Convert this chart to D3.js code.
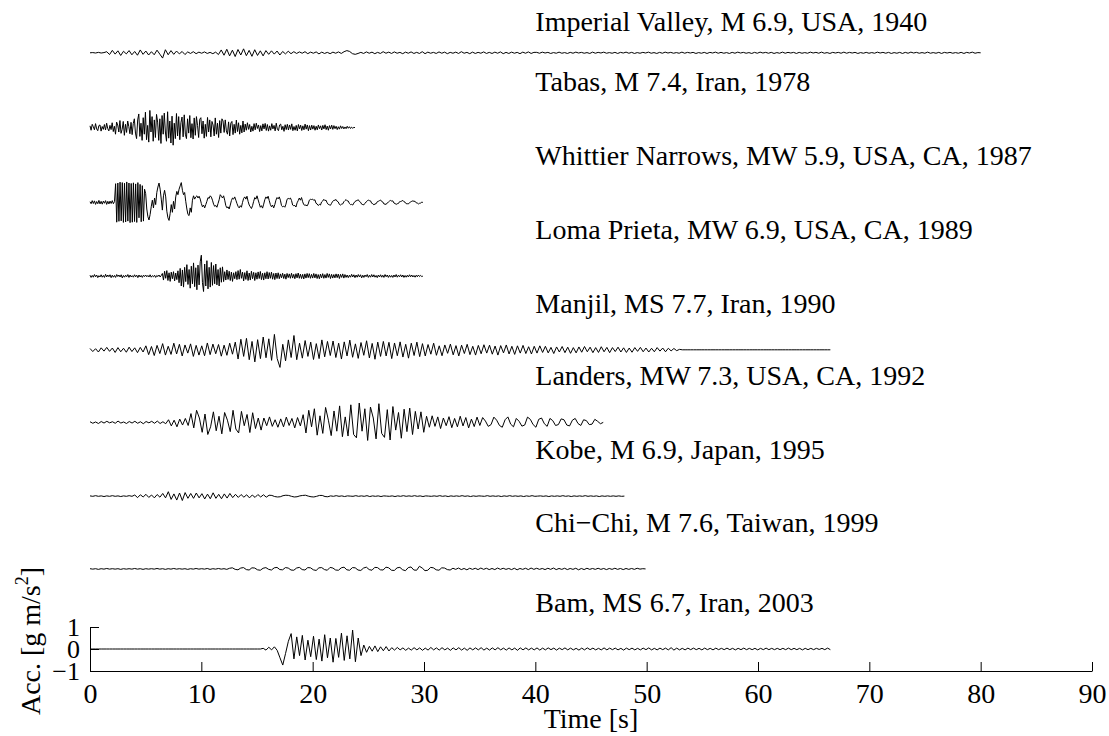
<!DOCTYPE html>
<html>
<head>
<meta charset="utf-8">
<script src="https://cdn.jsdelivr.net/npm/d3@7"></script>
<style>
  html, body { margin: 0; padding: 0; background: #fff; }
  svg { display: block; }
  text { font-family: "Liberation Serif", "Times New Roman", serif; fill: #000; }
</style>
</head>
<body>
<svg id="chart" width="1109" height="736"></svg>
<script>
// Earthquake records, top to bottom
const events = [
  "Imperial Valley, M 6.9, USA, 1940",
  "Tabas, M 7.4, Iran, 1978",
  "Whittier Narrows, MW 5.9, USA, CA, 1987",
  "Loma Prieta, MW 6.9, USA, CA, 1989",
  "Manjil, MS 7.7, Iran, 1990",
  "Landers, MW 7.3, USA, CA, 1992",
  "Kobe, M 6.9, Japan, 1995",
  "Chi\u2212Chi, M 7.6, Taiwan, 1999",
  "Bam, MS 6.7, Iran, 2003"
];
// record length of each trace [s]
const durations = [80, 23.8, 29.9, 29.9, 66.5, 46.1, 48, 49.9, 66.5];
// vertical shift of each trace [g m/s^2]
const offsets = [27.1, 23.7, 20.3, 16.95, 13.6, 10.3, 6.95, 3.64, 0];

const xTicks = [0, 10, 20, 30, 40, 50, 60, 70, 80, 90];
const yTicks = [-1, 0, 1];

// Sampled accelerations, evenly spaced over each record, in 0.01 g m/s^2
const imperialValley = [
  0,1,-1,2,-1,1,
  5,-8,11,-6,9,-12,7,-5,10,-9,6,-11,13,-7,8,-10,5,-9,12,
  -6,-24,14,-9,
  10,-7,8,-5,6,-8,4,-3,5,-4,3,-2,4,-3,2,-4,3,
  -8,13,-11,16,-14,12,-17,15,-10,18,-13,11,-16,14,-12,9,-14,10,
  -7,9,-6,8,-10,6,-5,7,-4,5,
  -3,4,-2,5,-4,3,-2,4,-5,3,-3,2,-4,3,-2,4,-3,
  5,10,6,-4,-7,-3,
  2,-3,4,-2,3,-4,2,-3,5,-2,3,-3,4,-2,2,-4,3,-2,4,-3,
  2,-3,5,-4,3,-2,2,-3,4,-2,3,-4,2,-2,3,-3,5,-2,2,-4,
  3,-3,2,-2,4,-3,2,-3,3,-2,4,-4,2,-3,3,-2,2,-4,3,-2,
  4,-3,2,
  2,-2,3,-1,2,-3,1,-2,3,-2,1,-3,2,-2,3,-1,2,-2,1,-3,
  3,-2,2,-1,3,-2,1,-2,2,-3,2,-1,3,-2,2,-3,1,-2,2,-1,
  3,-2,1,-3,2,-2,3,-1,2,-2,1,-2,3,-2,2,-1,2,-3,1,-2,
  2,-3,2,-1,3,-2,2,-2,1,-3,2,-2,3,-1,2,-2,1,-3,2,-2,
  3,-1,2,-2,2,-3,1,-2,3,-2,2,-1,2,-3,2,-2,1,-2,3,-1,
  2,-2,3,-2,1,-3,2,-1,2,-2,3,-2,2,-1,2,-3,1,-2,2,-2,
  1,-2,3,-1,2,-2,2,-3,1,-2,2,-3,2,-2,3,-1,2,-2,1,-2,
  3,-2,1,-2,2,-3,2,-1,2,-2,1,-2,2,-3,2,-1,3,-2,1,0
];
const tabas = [
  8,-12,15,4,-10,18,-6,-14,9,12,-16,5,-8,14,-11,20,-5,-15,10,-9,
  22,-18,6,-30,25,12,-20,32,-26,-8,28,-35,15,-22,30,5,-28,24,-32,18,
  40,-25,-50,35,62,-40,20,-58,45,-30,70,-55,10,-66,78,-20,50,-62,35,-45,
  60,25,-58,40,-72,55,-30,66,-20,-62,72,-48,30,-70,52,-80,20,-50,64,-38,
  50,-55,22,48,-42,58,-30,-50,40,-25,55,-46,18,-52,44,-35,50,10,-45,38,
  45,-28,30,-48,15,-40,46,-20,35,-42,28,12,-38,44,-30,20,-45,32,-25,40,
  30,-22,35,-15,-30,26,-38,20,28,-32,15,-25,34,-18,22,-30,10,-24,30,-20,
  16,-12,22,-8,14,-20,6,-16,18,-10,20,-4,12,-18,9,-15,17,-6,19,-13,
  14,-16,8,-12,18,-6,10,-15,20,-8,-14,12,16,-10,6,-17,13,-9,15,-11,
  12,-8,17,-14,5,-12,10,-15,14,-6,11,-13,8,-10,16,-7,12,-14,9,-11,
  11,-7,9,-12,6,-10,12,-5,8,-11,10,-6,13,-9,7,-12,9,-6,11,-8,
  9,-5,6,-9,4,-7,8,-4,5,-6,3,-5,6,-3,4,-4,2,-3,1,0
];
const whittierNarrows = [
  3,-6,8,-5,7,-9,4,-6,9,-7,5,-8,6,-4,8,-9,5,-7,6,-5,8,-6,4,
  85,-90,88,-86,92,-84,90,-91,87,-89,93,-85,88,-92,86,-90,89,-87,84,-91,90,-70,82,-88,76,-85,60,
  40,-30,-65,-80,-55,-20,10,-25,20,-10,45,70,88,60,15,-35,30,55,25,-40,
  -70,-82,-50,-10,-45,5,-30,25,50,35,60,75,90,55,35,45,5,-30,-55,-60,
  -25,-45,10,30,15,
  25,30,20,28,15,-5,-20,-12,-25,-10,5,22,18,30,24,10,-8,-18,-14,-22,-5,12,35,28,20,
  30,10,-15,-25,-20,-30,-12,8,20,15,25,10,-5,-18,-25,-15,-22,0,18,25,15,28,5,-12,-20,
  -28,-15,5,22,15,30,12,-5,-22,-15,-26,-8,12,25,18,28,8,-10,-20,-12,-25,-10,10,22,16,
  25,10,-14,-20,-17,-22,-8,14,18,16,20,9,-12,-15,-14,-21,-2,8,20,10,22,3,-10,-13,-12,-16,-7,10,14,13,
  15,9,12,-4,-7,-14,-9,-12,2,6,
  14,8,10,-2,-9,-11,-13,-4,5,9,
  10,13,5,2,-9,-12,-8,-7,3,8,
  13,7,6,-5,-10,-9,-12,-3,4,7,
  9,12,4,1,-8,-10,-11,-4,2,6,
  11,8,7,-4,-6,-11,-7,-6,3,5,
  8,11,4,2,-7,-8,-9,-2,1,6,
  9,6,7,-3,-5,-9,-6,-5,3,4,
  6,9,3,1,-6,-6,-7,-1,2,5,
  7,5,5,-2,-3,-7,-4,-3,1,0
];
const lomaPrieta = [
  4,-6,3,-5,7,-3,5,-7,2,-4,6,-5,3,-6,8,-4,5,-3,6,-7,
  4,-5,3,-6,7,-2,5,-4,6,-8,3,-5,4,-3,7,-6,5,-4,2,-5,
  6,-3,4,-7,5,-4,3,-6,4,-2,5,-3,3,-4,6,-5,2,-3,4,-6,
  3,-2,5,-4,3,
  12,-18,22,-10,25,-20,15,-24,18,-12,20,-22,14,-16,24,
  -30,35,-45,28,-50,40,-25,52,-38,30,
  -55,45,-35,60,-48,38,-62,50,-40,65,
  95,-30,-70,55,-45,70,-58,40,-50,62,
  -42,48,-35,55,-40,30,-45,38,-28,42,
  -25,20,-18,28,-15,22,-20,18,-24,15,-12,20,-16,25,-14,30,-10,18,-22,16,
  -15,24,-20,14,-18,22,-12,17,-20,15,-14,19,-11,21,-16,13,-18,15,-12,20,
  -13,16,-10,18,-14,12,-16,14,-11,15,
  -12,10,-8,13,-11,9,-14,12,-7,10,-10,13,-9,8,-12,11,-8,14,-10,9,
  -11,8,-13,10,-9,12,-7,11,-10,8,-9,12,-8,10,-11,7,-12,9,-8,11,
  -10,7,-9,12,-6,10,-11,8,-9,7,-8,10,-7,9,-11,8,-6,10,-9,7,
  -6,5,-7,4,-5,8,-4,6,-7,5,-5,7,-4,6,-8,4,-6,5,-3,7,
  -6,4,-5,7,-4,6,-5,3,-7,5,-4,6,-5,4,-6,7,-3,5,-6,4,
  -5,3,-6,5,-4,7,-5,4,-3,6,-4,5,-6,3,-5,4,-4,6,-3,5,
  -4,3,-5,4,-3,5,-2,3,-2,0
];
const manjil = [
  6,-8,5,-10,9,-6,11,-7,8,-12,10,-9,7,-11,12,-8,9,-13,11,-10,
  18,-22,15,-26,20,-17,28,-24,16,-21,30,-19,25,-28,22,-15,27,-30,20,-24,
  18,-27,31,-22,26,-18,24,-29,21,-25,30,-20,
  35,-42,48,-30,52,-45,38,-55,46,-40,58,-36,50,-48,70,-40,
  -80,25,-50,45,-35,65,-45,30,
  -38,42,-30,35,-44,28,-40,45,-32,38,-26,40,-35,30,-42,36,-28,44,-34,27,
  -39,33,-25,41,-37,29,-43,35,-30,38,-28,34,-40,31,-27,36,-33,25,-38,30,
  -26,35,-31,28,
  -28,24,-20,30,-25,18,-27,22,-16,26,-23,19,-28,21,-17,25,-22,16,-24,20,
  -18,23,-15,21,-20,17,-24,19,-14,22,-19,16,-21,18,-15,20,-17,14,-19,16,
  -15,18,-12,16,-14,11,-17,13,-10,15,-13,12,-16,10,-14,13,-11,15,-9,12,
  -13,10,-12,14,-9,11,-13,10,-8,12,-10,9,-12,8,-11,10,-7,11,-9,8,
  -10,7,-9,10,-6,8,-9,7,-5,6,-4,2,
  0,0,0,0,0,0,0,0,0,0,0,0,0,0,0,0,0,0,0,0,0,0,0,0,0,0,0,
  0,0,0,0,0,0,0,0,0,0,0,0,0,0,0,0,0,0,0,0,0,0,0,0,0,0,0
];
const landers = [
  3,-4,2,-5,4,-3,5,-2,3,-4,6,-3,2,-5,4,-3,5,-4,3,-6,4,-2,5,-4,6,-5,3,-6,
  12,-16,10,-20,15,-12,18,-14,
  40,-25,55,20,-45,38,-55,-20,48,-38,28,-52,45,10,-42,55,-30,-48,50,-15,36,-46,44,-28,20,-35,
  20,-15,25,-18,12,-22,16,-20,24,-14,18,-25,22,-16,
  35,-48,55,-20,62,-58,30,-50,68,10,-60,52,-40,75,-65,25,-62,80,-55,-70,
  88,-40,62,-82,70,20,-75,85,-50,-68,58,-80,72,-35,45,-72,60,-42,65,-55,
  50,-30,48,-45,
  28,-22,30,-18,25,-28,20,-15,26,-24,18,-20,28,-16,22,-25,15,-19,24,-14,
  22,6,-18,-10,24,10,-14,-22,12,25,-8,-20,18,5,-17,-12,24,14,-10,-22,
  14,20,-6,-18,18,8,-14,-10,16,12,-12,-16,10,18,-5,-14,12,8,-10,-8,
  14,5,-6,0
];
const kobe = [
  1,-1,2,-1,1,-2,1,-1,2,-1,1,-2,1,-1,2,-1,
  5,-7,6,-4,8,-6,5,-8,7,-5,
  12,-8,20,-15,10,-18,14,-20,16,-10,
  12,-10,14,-8,11,-13,9,-12,15,-10,8,-12,10,-9,12,-7,
  8,-6,7,-5,6,-8,5,-6,7,-4,6,-5,
  4,3,-2,-4,-3,2,4,3,-1,-4,-3,1,3,4,0,-3,-4,-1,3,3,-2,-3,
  1,-1,2,-1,1,-2,1,0,-1,2,-1,1,-1,2,-2,1,-1,1,-2,1,
  0,-1,1,-2,1,-1,2,-1,1,-1,2,-1,1,-2,1,0,-1,1,-1,2,
  -1,1,-2,1,-1,1,-1,2,-1,1,-2,1,-1,1,0,-1,2,-1,1,-1,
  1,-2,1,-1,2,-1,1,-1,1,-2,1,-1,2,-1,0,1,-1,1,-2,1,
  -1,1,-1,2,-1,1,-2,1,-1,1,-1,2,-1,1,-1,1,-2,1,-1,1,
  -1,1,-1,1,-1,0
];
const chiChi = [
  1,-1,1,-2,1,-1,2,-1,1,-1,1,-2,1,-1,1,-1,2,-1,1,-2,
  1,-1,1,-1,2,-1,1,-2,1,-1,2,-1,1,-1,1,-2,1,-1,2,-1,
  1,-1,2,-2,1,-1,2,-1,1,-2,
  3,5,-2,-4,4,6,-3,-5,5,4,-4,-6,3,6,-2,-5,5,7,-3,-4,
  6,4,-5,-6,4,7,-3,-5,6,5,-4,-7,5,6,-3,-6,7,4,-5,-6,
  5,8,-4,-6,6,5,-5,-7,4,8,-3,-6,7,6,-4,-5,8,5,-6,-7,
  5,7,-4,-8,6,9,-5,-6,12,4,-8,-6,7,5,-4,-6,5,4,-3,-5,
  3,-2,4,-3,2,-4,3,-2,3,-3,4,-2,3,-3,2,-3,4,-2,3,-2,
  2,-3,3,-4,2,-2,3,-3,4,-2,3,-2,2,-3,3,-2,4,-3,2,-2,
  3,-3,2,-2,3,-4,2,-3,3,-2,2,-2,3,-2,2,-3,2,-2,3,-2,
  2,-3,2,-2,2,-2,3,-1,1,0
];
const bam = [
  0,0,0,0,0,0,0,0,0,0,0,0,0,0,0,0,0,0,0,0,0,0,0,0,0,0,0,0,0,0,0,
  0,0,0,0,0,0,0,0,0,0,0,0,0,0,0,0,0,0,0,0,0,0,0,0,0,0,0,0,0,0,0,
  3,-5,8,-4,10,-6,
  -40,-73,-20,35,
  70,-45,55,-30,62,-50,40,-35,58,-48,45,-55,65,-40,50,-60,48,-38,72,-52,
  60,-45,86,-58,50,-30,
  18,-15,12,-10,14,-12,10,-8,11,-9,
  6,-5,7,-4,5,-6,4,-5,6,-4,5,-6,4,-5,7,-4,5,-5,6,-4,
  4,-6,5,-4,6,-5,4,-6,5,-4,5,-4,6,-5,4,-5,5,-4,6,-4,
  4,-5,5,-4,4,-6,5,-4,5,-4,4,-4,5,-5,4,-4,5,-3,4,-5,
  4,-3,5,-4,4,-4,3,-5,4,-4,5,-3,4,-4,3,-4,5,-4,4,-3,
  4,-4,3,-5,4,-3,4,-4,3,-4,4,-3,5,-4,3,-4,4,-3,4,-4,
  6,-5,4,-4,3,-4,4,-3,4,-3,3,-4,4,-3,3,-4,4,-3,3,-3,
  4,-3,3,-4,3,-3,4,-3,3,-3,3,-4,3,-3,4,-3,3,-3,3,-3,
  3,-3,4,-3,3,-3,3,-4,3,-3,3,-3,3,-2,3,-3,4,-3
];

const records = [imperialValley, tabas, whittierNarrows, lomaPrieta, manjil,
                 landers, kobe, chiChi, bam];

const svg = d3.select("#chart");

// Time axis spans 0–90 s; the acceleration axis shows one record's −1…1 band,
// the other records are stacked above it by their offsets.
const x = d3.scaleLinear().domain([0, 90]).range([90, 1092]);
const y = d3.scaleLinear().domain([-1, 1]).range([671, 627]);

const line = d3.line()
  .x(d => x(d.t))
  .y(d => y(d.v));

records.forEach((vals, i) => {
  const step = durations[i] / (vals.length - 1);
  const pts = vals.map((a, j) => ({ t: j * step, v: offsets[i] + a / 100 }));
  svg.append("path")
    .datum(pts)
    .attr("d", line)
    .attr("fill", "none")
    .attr("stroke", "#000")
    .attr("stroke-width", 1)
    .attr("stroke-linejoin", "round");

  svg.append("text")
    .attr("x", x(40))
    .attr("y", Math.max(y(offsets[i]) - 37, 31))
    .attr("font-size", 28)
    .text(events[i]);
});

// Time axis with inward ticks
const xAxis = d3.axisBottom(x)
  .tickValues(xTicks)
  .tickSize(-9)
  .tickSizeOuter(0)
  .tickPadding(12)
  .tickFormat(d3.format("d"));

const gx = svg.append("g")
  .attr("transform", `translate(0,${y(-1)})`)
  .call(xAxis);
gx.selectAll("text").attr("font-size", 28).attr("font-family", "Liberation Serif");
gx.selectAll("path, line").attr("stroke", "#000");

// Acceleration axis
const yAxis = d3.axisLeft(y)
  .tickValues(yTicks)
  .tickSize(-9)
  .tickSizeOuter(0)
  .tickPadding(10)
  .tickFormat(d3.format("d"));

const gy = svg.append("g")
  .attr("transform", `translate(${x(0)},0)`)
  .call(yAxis);
gy.selectAll("text").attr("font-size", 26).attr("font-family", "Liberation Serif");
gy.selectAll("path, line").attr("stroke", "#000");

// Axis titles
svg.append("text")
  .attr("x", (x(0) + x(90)) / 2)
  .attr("y", 728)
  .attr("text-anchor", "middle")
  .attr("font-size", 28)
  .text("Time [s]");

const ylab = svg.append("text")
  .attr("transform", "translate(40,641) rotate(-90)")
  .attr("text-anchor", "middle")
  .attr("font-size", 28);
ylab.append("tspan").text("Acc. [g m/s");
ylab.append("tspan").attr("font-size", 18).attr("dy", -12).text("2");
ylab.append("tspan").attr("dy", 12).text("]");
</script>
</body>
</html>
